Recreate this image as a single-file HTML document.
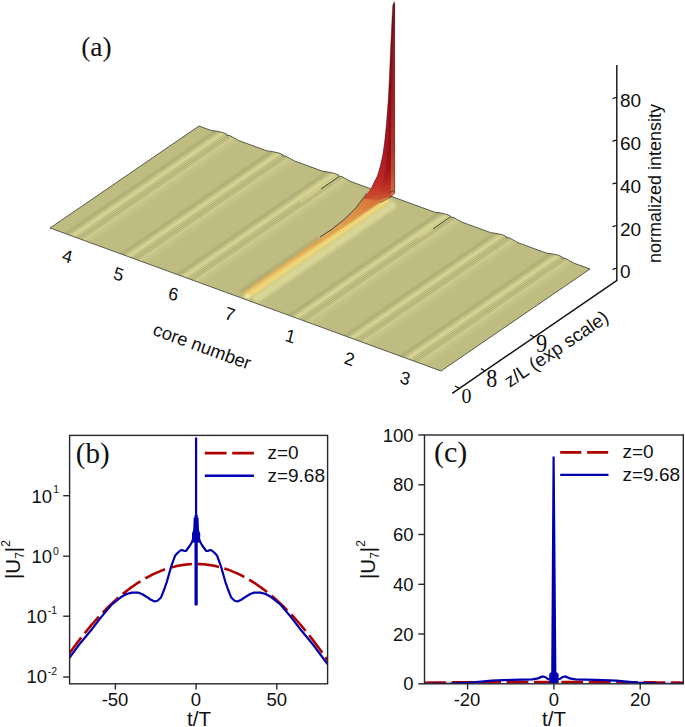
<!DOCTYPE html>
<html><head><meta charset="utf-8">
<style>
html,body{margin:0;padding:0;background:#fff;width:685px;height:727px;overflow:hidden}
svg{position:absolute;left:0;top:0;display:block}
.s{font-family:"Liberation Sans",sans-serif;fill:#111}
.r{font-family:"Liberation Serif",serif;fill:#111}
</style></head><body>
<svg width="685" height="727" viewBox="0 0 685 727">

<defs>
  <linearGradient id="surfU" gradientUnits="userSpaceOnUse" x1="0" y1="0" x2="1" y2="0.0"><stop offset="0.0000" stop-color="#bebc81"/><stop offset="0.0314" stop-color="#bebc81"/><stop offset="0.0414" stop-color="#afad74"/><stop offset="0.0494" stop-color="#c4c286"/><stop offset="0.0554" stop-color="#d5d391"/><stop offset="0.0604" stop-color="#d6d492"/><stop offset="0.0639" stop-color="#bab87e"/><stop offset="0.0664" stop-color="#cfcd8f"/><stop offset="0.0689" stop-color="#acaa72"/><stop offset="0.0714" stop-color="#cac88b"/><stop offset="0.0739" stop-color="#a9a76f"/><stop offset="0.0764" stop-color="#c8c689"/><stop offset="0.0789" stop-color="#b4b279"/><stop offset="0.0834" stop-color="#cdcb8d"/><stop offset="0.0934" stop-color="#c5c387"/><stop offset="0.1074" stop-color="#bebc81"/><stop offset="0.1743" stop-color="#bebc81"/><stop offset="0.1843" stop-color="#afad74"/><stop offset="0.1923" stop-color="#c4c286"/><stop offset="0.1983" stop-color="#d5d391"/><stop offset="0.2033" stop-color="#d6d492"/><stop offset="0.2068" stop-color="#bab87e"/><stop offset="0.2093" stop-color="#cfcd8f"/><stop offset="0.2118" stop-color="#acaa72"/><stop offset="0.2143" stop-color="#cac88b"/><stop offset="0.2168" stop-color="#a9a76f"/><stop offset="0.2193" stop-color="#c8c689"/><stop offset="0.2218" stop-color="#b4b279"/><stop offset="0.2263" stop-color="#cdcb8d"/><stop offset="0.2363" stop-color="#c5c387"/><stop offset="0.2503" stop-color="#bebc81"/><stop offset="0.3171" stop-color="#bebc81"/><stop offset="0.3271" stop-color="#afad74"/><stop offset="0.3351" stop-color="#c4c286"/><stop offset="0.3411" stop-color="#d5d391"/><stop offset="0.3461" stop-color="#d6d492"/><stop offset="0.3496" stop-color="#bab87e"/><stop offset="0.3521" stop-color="#cfcd8f"/><stop offset="0.3546" stop-color="#acaa72"/><stop offset="0.3571" stop-color="#cac88b"/><stop offset="0.3596" stop-color="#a9a76f"/><stop offset="0.3621" stop-color="#c8c689"/><stop offset="0.3646" stop-color="#b4b279"/><stop offset="0.3691" stop-color="#cdcb8d"/><stop offset="0.3791" stop-color="#c5c387"/><stop offset="0.3931" stop-color="#bebc81"/><stop offset="0.6029" stop-color="#bebc81"/><stop offset="0.6129" stop-color="#afad74"/><stop offset="0.6209" stop-color="#c4c286"/><stop offset="0.6269" stop-color="#d5d391"/><stop offset="0.6319" stop-color="#d6d492"/><stop offset="0.6354" stop-color="#bab87e"/><stop offset="0.6379" stop-color="#cfcd8f"/><stop offset="0.6404" stop-color="#acaa72"/><stop offset="0.6429" stop-color="#cac88b"/><stop offset="0.6454" stop-color="#a9a76f"/><stop offset="0.6479" stop-color="#c8c689"/><stop offset="0.6504" stop-color="#b4b279"/><stop offset="0.6549" stop-color="#cdcb8d"/><stop offset="0.6649" stop-color="#c5c387"/><stop offset="0.6789" stop-color="#bebc81"/><stop offset="0.7457" stop-color="#bebc81"/><stop offset="0.7557" stop-color="#afad74"/><stop offset="0.7637" stop-color="#c4c286"/><stop offset="0.7697" stop-color="#d5d391"/><stop offset="0.7747" stop-color="#d6d492"/><stop offset="0.7782" stop-color="#bab87e"/><stop offset="0.7807" stop-color="#cfcd8f"/><stop offset="0.7832" stop-color="#acaa72"/><stop offset="0.7857" stop-color="#cac88b"/><stop offset="0.7882" stop-color="#a9a76f"/><stop offset="0.7907" stop-color="#c8c689"/><stop offset="0.7932" stop-color="#b4b279"/><stop offset="0.7977" stop-color="#cdcb8d"/><stop offset="0.8077" stop-color="#c5c387"/><stop offset="0.8217" stop-color="#bebc81"/><stop offset="0.8886" stop-color="#bebc81"/><stop offset="0.8986" stop-color="#afad74"/><stop offset="0.9066" stop-color="#c4c286"/><stop offset="0.9126" stop-color="#d5d391"/><stop offset="0.9176" stop-color="#d6d492"/><stop offset="0.9211" stop-color="#bab87e"/><stop offset="0.9236" stop-color="#cfcd8f"/><stop offset="0.9261" stop-color="#acaa72"/><stop offset="0.9286" stop-color="#cac88b"/><stop offset="0.9311" stop-color="#a9a76f"/><stop offset="0.9336" stop-color="#c8c689"/><stop offset="0.9361" stop-color="#b4b279"/><stop offset="0.9406" stop-color="#cdcb8d"/><stop offset="0.9506" stop-color="#c5c387"/><stop offset="0.9646" stop-color="#bebc81"/><stop offset="1.0000" stop-color="#bebc81"/></linearGradient>
  <linearGradient id="spikeG" gradientUnits="userSpaceOnUse" x1="0" y1="0" x2="0" y2="205">
    <stop offset="0" stop-color="#741020"/>
    <stop offset="0.5" stop-color="#860c1c"/>
    <stop offset="0.76" stop-color="#940e1c"/>
    <stop offset="0.85" stop-color="#a8161e"/>
    <stop offset="0.92" stop-color="#c03428"/>
    <stop offset="1" stop-color="#d26c34"/>
  </linearGradient>
  <linearGradient id="spikeR" gradientUnits="userSpaceOnUse" x1="0" y1="0" x2="0" y2="196">
    <stop offset="0" stop-color="#8a1620"/>
    <stop offset="0.5" stop-color="#a82420"/>
    <stop offset="0.75" stop-color="#bc4a2a"/>
    <stop offset="0.9" stop-color="#c86a32"/>
    <stop offset="1" stop-color="#d08a40"/>
  </linearGradient>
  <linearGradient id="spikeL" gradientUnits="userSpaceOnUse" x1="0" y1="60" x2="0" y2="205">
    <stop offset="0" stop-color="#a41a22" stop-opacity="0"/>
    <stop offset="0.6" stop-color="#b41c22" stop-opacity="0.6"/>
    <stop offset="0.85" stop-color="#c4302a" stop-opacity="0.8"/>
    <stop offset="1" stop-color="#d0542e" stop-opacity="0.9"/>
  </linearGradient>
  <linearGradient id="ridgeO" gradientUnits="userSpaceOnUse" x1="245" y1="295" x2="388" y2="192">
    <stop offset="0" stop-color="#eccc78"/>
    <stop offset="0.4" stop-color="#e8b860"/>
    <stop offset="0.6" stop-color="#e2a44e"/>
    <stop offset="0.8" stop-color="#dc8c42"/>
    <stop offset="0.92" stop-color="#d47036"/>
    <stop offset="1" stop-color="#cc5830"/>
  </linearGradient>
  <filter id="bl1" x="-20%" y="-20%" width="140%" height="140%"><feGaussianBlur stdDeviation="0.8"/></filter>
  <filter id="bl2" x="-20%" y="-20%" width="140%" height="140%"><feGaussianBlur stdDeviation="1.6"/></filter>
</defs>
<g id="surface">
  <g transform="matrix(391,143,149,-102,50,228)">
    <polygon points="0.0000,0.0000 1.0000,0.0000 1.0000,1.0000 0.9586,1.0000 0.9436,1.0060 0.9316,1.0110 0.9271,1.0040 0.9246,1.0120 0.9136,1.0140 0.8986,1.0080 0.8886,1.0000 0.8157,1.0000 0.8007,1.0060 0.7887,1.0110 0.7842,1.0040 0.7817,1.0120 0.7707,1.0140 0.7557,1.0080 0.7457,1.0000 0.6729,1.0000 0.6579,1.0060 0.6459,1.0110 0.6414,1.0040 0.6389,1.0120 0.6279,1.0140 0.6129,1.0080 0.6029,1.0000 0.3871,1.0000 0.3721,1.0060 0.3601,1.0110 0.3556,1.0040 0.3531,1.0120 0.3421,1.0140 0.3271,1.0080 0.3171,1.0000 0.2443,1.0000 0.2293,1.0060 0.2173,1.0110 0.2128,1.0040 0.2103,1.0120 0.1993,1.0140 0.1843,1.0080 0.1743,1.0000 0.1014,1.0000 0.0864,1.0060 0.0744,1.0110 0.0699,1.0040 0.0674,1.0120 0.0564,1.0140 0.0414,1.0080 0.0314,1.0000 0.0000,1.0000" fill="url(#surfU)"/>
  </g>
  <!-- core-7 ridge -->
  <g>
    <line x1="254" y1="300.5" x2="395" y2="203.5" stroke="#dedb9a" stroke-width="8" filter="url(#bl2)" opacity="0.85"/>
    <line x1="240" y1="291.5" x2="318" y2="237.5" stroke="#a6a46e" stroke-width="2.2" filter="url(#bl1)" opacity="0.8"/>
    <polygon points="242,293.6 320.1,238.5 332,229.9 345.1,219.4 355.6,208.9 363.5,198.4 367.5,193.5 371.4,187.9 375.3,180 394.6,185 394.6,194 389,198 387.9,197.8 246.4,294.6" fill="url(#ridgeO)"/>
    <line x1="247.5" y1="296.3" x2="389" y2="199.5" stroke="#f2d878" stroke-width="5" filter="url(#bl1)"/>
    <line x1="242.5" y1="293.5" x2="321" y2="238.6" stroke="#d29440" stroke-width="1.3" filter="url(#bl1)"/>
    <ellipse cx="247" cy="296.5" rx="3" ry="2" fill="#f8eeb0" filter="url(#bl1)"/>
    <line x1="380.2" y1="202.5" x2="393" y2="196" stroke="#5a4020" stroke-width="0.7"/>
  </g>
  <!-- creases near back edge -->
  <line x1="337.7" y1="176.4" x2="300" y2="202" stroke="#e6e29c" stroke-width="1.3" filter="url(#bl1)"/>
  <line x1="338.6" y1="176.8" x2="321" y2="189" stroke="#3a3626" stroke-width="0.9"/>
  <line x1="448.8" y1="216.8" x2="418" y2="238" stroke="#e6e29c" stroke-width="1.3" filter="url(#bl1)"/>
  <line x1="449.6" y1="217.4" x2="433" y2="229" stroke="#3a3626" stroke-width="0.9"/>
  <polyline points="320.1,237 332,229.2 345.1,218.7 355.6,208.2 363.5,197.8 367,193" fill="none" stroke="#3a3028" stroke-width="0.9"/>
  <polygon points="50.0,228.0 199.0,126.0 211.3,130.5 216.4,131.1 223.1,132.6 227.2,134.4 226.9,135.6 229.7,135.5 233.7,137.7 238.7,140.5 267.1,150.9 272.2,151.5 279.0,153.1 283.0,154.8 282.8,156.0 285.6,155.9 289.5,158.2 294.5,160.9 323.0,171.4 328.1,172.0 334.9,173.5 338.9,175.3 338.7,176.4 341.5,176.4 345.4,178.6 350.4,181.4 434.7,212.2 439.8,212.8 446.6,214.4 450.6,216.1 450.4,217.3 453.2,217.2 457.1,219.5 462.1,222.2 490.6,232.6 495.7,233.3 502.4,234.8 506.4,236.6 506.2,237.7 509.0,237.7 513.0,239.9 517.9,242.6 546.4,253.1 551.5,253.7 558.3,255.2 562.3,257.0 562.1,258.2 564.9,258.1 568.8,260.3 573.8,263.1 590.0,269.0 441.0,371.0" fill="none" stroke="#3a3a30" stroke-width="0.8" stroke-linejoin="round"/>
</g>
<path id="spike" d="M394.3,1.2 L395,4 L394.7,41 L394.7,100 L394.7,193.5 L388,197.5 L378,200 L369,199.5 L363.5,198.4 L367.5,193.5 L371.4,187.9 L375.3,180 L377.5,175.7 L380.3,166 L382.8,155 L384.7,141.3 L386.1,127.5 L387.2,113.8 L388.2,100 L389.1,82.4 L390,61.8 L390.9,41.2 L391.9,20.6 L392.7,5.5 Z" fill="url(#spikeG)"/>
<path d="M394.6,20 L394.7,193.5 L390.8,195 L391.2,100 L392.5,40 Z" fill="url(#spikeR)" opacity="0.7"/>
<path d="M388.2,100 L387.2,113.8 L386.1,127.5 L384.7,141.3 L382.8,155 L380.3,166 L377.5,175.7 L375.3,180 L371.4,187.9 L367.5,193.5 L363.5,198.4 L372,199 L378,193 L382,184 L385,172 L387.2,155 L388.8,135 L389.8,110 Z" fill="url(#spikeL)"/>
<path d="M394.3,1.2 L392.7,5.5 L391.9,20.6 L390.9,41.2 L390,61.8 L389.1,82.4 L388.2,100 L387.2,113.8 L386.1,127.5 L384.7,141.3 L382.8,155 L380.3,166 L377.5,175.7 L375.3,180 L371.4,187.9" fill="none" stroke="#3a1a1a" stroke-width="0.6" opacity="0.6"/>
<line x1="394.7" y1="4" x2="394.7" y2="193" stroke="#3a2a20" stroke-width="0.7" opacity="0.7"/>
<line x1="389.5" y1="192.5" x2="394.5" y2="190.5" stroke="#3a2a20" stroke-width="0.8" opacity="0.8"/>

<text class="r" x="81.2" y="56.2" font-size="27.5">(a)</text>

<line x1="616.8" y1="65" x2="616.8" y2="281" stroke="#111" stroke-width="1.4"/>
<g stroke="#111" stroke-width="1.2"><line x1="612.5" y1="98.5" x2="616.8" y2="97.4"/><line x1="612.5" y1="141.2" x2="616.8" y2="140.1"/><line x1="612.5" y1="183.9" x2="616.8" y2="182.8"/><line x1="612.5" y1="226.6" x2="616.8" y2="225.5"/><line x1="612.5" y1="269.3" x2="616.8" y2="268.2"/></g>
<g class="s" font-size="19"><text x="620" y="107.4">80</text><text x="620" y="150.1">60</text><text x="620" y="192.8">40</text><text x="620" y="235.5">20</text><text x="620" y="278.2">0</text></g>
<text class="s" font-size="18" transform="translate(660.7,263) rotate(-90)">normalized intensity</text>
<line x1="452.2" y1="393.3" x2="617" y2="280.3" stroke="#111" stroke-width="1.4"/>
<g stroke="#111" stroke-width="1.2">
  <line x1="455" y1="386" x2="459.4" y2="388.4"/>
  <line x1="480.9" y1="368.6" x2="485.3" y2="371"/>
  <line x1="530" y1="334.8" x2="534.4" y2="337.2"/>
</g>
<text class="r" x="461.5" y="403" font-size="20">0</text>
<text class="r" font-size="22" transform="translate(486.3,387.2) scale(1,1.16)">8</text>
<text class="r" font-size="22" transform="translate(536,351.5) scale(1.02,1.16)">9</text>
<text class="s" font-size="18.7" transform="translate(509.8,387.9) rotate(-34)">z/L (exp scale)</text>
<g class="s" font-size="18"><text transform="matrix(0.94,0.342,-0.242,0.97,67.5,256) translate(-5,6.5)">4</text><text transform="matrix(0.94,0.342,-0.242,0.97,118.7,274) translate(-5,6.5)">5</text><text transform="matrix(0.94,0.342,-0.242,0.97,173.6,293.7) translate(-5,6.5)">6</text><text transform="matrix(0.94,0.342,-0.242,0.97,230,313.8) translate(-5,6.5)">7</text><text transform="matrix(0.94,0.342,-0.242,0.97,290.5,336) translate(-5,6.5)">1</text><text transform="matrix(0.94,0.342,-0.242,0.97,349.5,358.6) translate(-5,6.5)">2</text><text transform="matrix(0.94,0.342,-0.242,0.97,405.2,378) translate(-5,6.5)">3</text></g>
<text class="s" font-size="18.3" transform="translate(151.8,334.6) rotate(20)">core number</text>

<g id="pb">
  <clipPath id="cb"><rect x="69.6" y="435.4" width="258.0" height="248.39999999999998"/></clipPath>
  <g clip-path="url(#cb)">
    <polyline points="68.3,655.1 69.1,653.9 69.9,652.8 70.7,651.6 71.5,650.5 72.3,649.4 73.1,648.3 73.9,647.2 74.7,646.1 75.6,645.0 76.4,643.9 77.2,642.8 78.0,641.8 78.8,640.7 79.6,639.6 80.4,638.6 81.2,637.6 82.0,636.5 82.8,635.5 83.6,634.5 84.5,633.5 85.3,632.5 86.1,631.5 86.9,630.5 87.7,629.5 88.5,628.5 89.3,627.6 90.1,626.6 90.9,625.6 91.7,624.7 92.5,623.8 93.4,622.8 94.2,621.9 95.0,621.0 95.8,620.1 96.6,619.2 97.4,618.3 98.2,617.4 99.0,616.5 99.8,615.7 100.6,614.8 101.4,613.9 102.3,613.1 103.1,612.2 103.9,611.4 104.7,610.6 105.5,609.8 106.3,608.9 107.1,608.1 107.9,607.3 108.7,606.5 109.5,605.8 110.3,605.0 111.2,604.2 112.0,603.5 112.8,602.7 113.6,601.9 114.4,601.2 115.2,600.5 116.0,599.8 116.8,599.0 117.6,598.3 118.4,597.6 119.2,596.9 120.1,596.2 120.9,595.5 121.7,594.9 122.5,594.2 123.3,593.5 124.1,592.9 124.9,592.2 125.7,591.6 126.5,591.0 127.3,590.4 128.1,589.7 129.0,589.1 129.8,588.5 130.6,587.9 131.4,587.3 132.2,586.8 133.0,586.2 133.8,585.6 134.6,585.1 135.4,584.5 136.2,584.0 137.0,583.4 137.9,582.9 138.7,582.4 139.5,581.9 140.3,581.4 141.1,580.9 141.9,580.4 142.7,579.9 143.5,579.4 144.3,578.9 145.1,578.5 145.9,578.0 146.8,577.6 147.6,577.1 148.4,576.7 149.2,576.3 150.0,575.9 150.8,575.4 151.6,575.0 152.4,574.6 153.2,574.2 154.0,573.9 154.8,573.5 155.6,573.1 156.5,572.8 157.3,572.4 158.1,572.1 158.9,571.7 159.7,571.4 160.5,571.1 161.3,570.7 162.1,570.4 162.9,570.1 163.7,569.8 164.5,569.5 165.4,569.3 166.2,569.0 167.0,568.7 167.8,568.5 168.6,568.2 169.4,568.0 170.2,567.7 171.0,567.5 171.8,567.3 172.6,567.1 173.4,566.9 174.3,566.7 175.1,566.5 175.9,566.3 176.7,566.1 177.5,565.9 178.3,565.8 179.1,565.6 179.9,565.5 180.7,565.3 181.5,565.2 182.3,565.1 183.2,564.9 184.0,564.8 184.8,564.7 185.6,564.6 186.4,564.5 187.2,564.4 188.0,564.4 188.8,564.3 189.6,564.2 190.4,564.2 191.2,564.1 192.1,564.1 192.9,564.1 193.7,564.0 194.5,564.0 195.3,564.0 196.1,564.0 196.9,564.0 197.7,564.0 198.5,564.0 199.3,564.1 200.1,564.1 201.0,564.1 201.8,564.2 202.6,564.2 203.4,564.3 204.2,564.4 205.0,564.4 205.8,564.5 206.6,564.6 207.4,564.7 208.2,564.8 209.0,564.9 209.9,565.1 210.7,565.2 211.5,565.3 212.3,565.5 213.1,565.6 213.9,565.8 214.7,565.9 215.5,566.1 216.3,566.3 217.1,566.5 217.9,566.7 218.8,566.9 219.6,567.1 220.4,567.3 221.2,567.5 222.0,567.7 222.8,568.0 223.6,568.2 224.4,568.5 225.2,568.7 226.0,569.0 226.8,569.3 227.7,569.5 228.5,569.8 229.3,570.1 230.1,570.4 230.9,570.7 231.7,571.1 232.5,571.4 233.3,571.7 234.1,572.1 234.9,572.4 235.7,572.8 236.6,573.1 237.4,573.5 238.2,573.9 239.0,574.2 239.8,574.6 240.6,575.0 241.4,575.4 242.2,575.9 243.0,576.3 243.8,576.7 244.6,577.1 245.4,577.6 246.3,578.0 247.1,578.5 247.9,578.9 248.7,579.4 249.5,579.9 250.3,580.4 251.1,580.9 251.9,581.4 252.7,581.9 253.5,582.4 254.3,582.9 255.2,583.4 256.0,584.0 256.8,584.5 257.6,585.1 258.4,585.6 259.2,586.2 260.0,586.8 260.8,587.3 261.6,587.9 262.4,588.5 263.2,589.1 264.1,589.7 264.9,590.4 265.7,591.0 266.5,591.6 267.3,592.2 268.1,592.9 268.9,593.5 269.7,594.2 270.5,594.9 271.3,595.5 272.1,596.2 273.0,596.9 273.8,597.6 274.6,598.3 275.4,599.0 276.2,599.8 277.0,600.5 277.8,601.2 278.6,601.9 279.4,602.7 280.2,603.5 281.0,604.2 281.9,605.0 282.7,605.8 283.5,606.5 284.3,607.3 285.1,608.1 285.9,608.9 286.7,609.8 287.5,610.6 288.3,611.4 289.1,612.2 289.9,613.1 290.8,613.9 291.6,614.8 292.4,615.7 293.2,616.5 294.0,617.4 294.8,618.3 295.6,619.2 296.4,620.1 297.2,621.0 298.0,621.9 298.8,622.8 299.7,623.8 300.5,624.7 301.3,625.6 302.1,626.6 302.9,627.6 303.7,628.5 304.5,629.5 305.3,630.5 306.1,631.5 306.9,632.5 307.7,633.5 308.6,634.5 309.4,635.5 310.2,636.5 311.0,637.6 311.8,638.6 312.6,639.6 313.4,640.7 314.2,641.8 315.0,642.8 315.8,643.9 316.6,645.0 317.4,646.1 318.3,647.2 319.1,648.3 319.9,649.4 320.7,650.5 321.5,651.6 322.3,652.8 323.1,653.9 323.9,655.1 324.7,656.2 325.5,657.4 326.3,658.6 327.2,659.7 328.0,660.9 328.8,662.1 329.6,663.3" fill="none" stroke="#b00000" stroke-width="2.6" stroke-dasharray="21.8 5.6"/>
    <polyline points="66.0,662.5 69.6,657.5 80.3,643.2 90.6,630.8 101.0,617.4 111.3,605.0 121.6,596.7 126.5,594.0 131.9,592.6 138.1,592.6 142.0,594.0 146.4,596.7 150.5,599.5 154.6,601.5 157.5,600.8 160.8,597.8 164.0,590.0 167.0,581.3 171.1,566.8 173.5,560.0 175.2,555.5 178.0,552.5 180.4,550.5 182.0,550.0 184.0,550.8 185.9,551.0 187.8,548.5 190.0,545.5 192.0,542.0 193.0,539.0 199.2,539.0 200.2,542.0 202.2,545.5 204.4,548.5 206.3,551.0 208.2,550.8 210.2,550.0 211.8,550.5 214.2,552.5 217.0,555.5 218.7,560.0 221.1,566.8 225.2,581.3 228.2,590.0 231.4,597.8 234.7,600.8 237.6,601.5 241.7,599.5 245.8,596.7 250.2,594.0 254.1,592.6 260.3,592.6 265.7,594.0 270.6,596.7 280.9,605.0 291.2,617.4 301.6,630.8 311.9,643.2 322.6,657.5 327.6,664.2 330.0,667.4" fill="none" stroke="#0000b0" stroke-width="2.2" stroke-linejoin="round"/>
    <line x1="196.1" y1="437.5" x2="196.1" y2="605.5" stroke="#0000b0" stroke-width="2.2"/>
    <line x1="196.1" y1="515" x2="196.1" y2="605" stroke="#0000b0" stroke-width="3.2"/>
    <polygon points="193.7,517.5 198.5,517.5 199,530 200.3,534 199.9,542.5 192.3,542.5 191.9,534 193.2,530" fill="#0000b0"/>
  </g>
  <rect x="69.6" y="435.4" width="258.0" height="248.39999999999998" fill="none" stroke="#262630" stroke-width="1.4"/>
  <g stroke="#262630" stroke-width="1.4">
    <line x1="63.2" y1="495.7" x2="69.6" y2="495.7"/>
    <line x1="63.2" y1="556.2" x2="69.6" y2="556.2"/>
    <line x1="63.2" y1="616.2" x2="69.6" y2="616.2"/>
    <line x1="63.2" y1="677" x2="69.6" y2="677"/>
    <line x1="115.4" y1="683.8" x2="115.4" y2="689.5"/>
    <line x1="196.1" y1="683.8" x2="196.1" y2="689.5"/>
    <line x1="276.8" y1="683.8" x2="276.8" y2="689.5"/>
  </g>
  <line x1="204.8" y1="453.1" x2="253.9" y2="453.1" stroke="#b00000" stroke-width="2.6" stroke-dasharray="21.8 5.6"/>
  <line x1="204.8" y1="475.8" x2="253.9" y2="475.8" stroke="#0000b0" stroke-width="2.4"/>
  <g class="s" font-size="19">
    <text x="267.4" y="458.9">z=0</text>
    <text x="267.4" y="481.9">z=9.68</text>
  </g>
  <text class="r" x="75.8" y="462.5" font-size="29">(b)</text>
  <g class="s" font-size="18.5" text-anchor="middle">
    <text x="115" y="706.2">-50</text>
    <text x="196" y="706.2">0</text>
    <text x="276.8" y="706.2">50</text>
    <text x="199" y="725.5" font-size="20.5">t/T</text>
  </g>
  <g class="s" font-size="18.5" text-anchor="end">
    <text x="52" y="502.6">10</text>
    <text x="52" y="563">10</text>
    <text x="47" y="623.2">10</text>
    <text x="47" y="683.2">10</text>
  </g>
  <g class="s" font-size="10.5" text-anchor="start">
    <text x="53.3" y="492.5">1</text>
    <text x="53" y="554.5">0</text>
    <text x="47.8" y="614">-1</text>
    <text x="47.8" y="674.6">-2</text>
  </g>
  <g class="s" transform="translate(20,579) rotate(-90)">
    <text x="0" y="0" font-size="20.5">|U<tspan font-size="12" dy="4">7</tspan><tspan dy="-4">|</tspan><tspan font-size="12" dy="-10.5">2</tspan></text>
  </g>
</g>

<g id="pc">
  <clipPath id="cc"><rect x="424.5" y="435.0" width="258.79999999999995" height="248.79999999999995"/></clipPath>
  <g clip-path="url(#cc)">
    <polyline points="424.4,682.7 425.5,682.7 426.6,682.7 427.7,682.7 428.8,682.6 429.8,682.6 430.9,682.6 432.0,682.6 433.1,682.6 434.2,682.6 435.2,682.6 436.3,682.6 437.4,682.6 438.5,682.6 439.6,682.6 440.6,682.5 441.7,682.5 442.8,682.5 443.9,682.5 444.9,682.5 446.0,682.5 447.1,682.5 448.2,682.5 449.3,682.5 450.3,682.5 451.4,682.5 452.5,682.4 453.6,682.4 454.7,682.4 455.7,682.4 456.8,682.4 457.9,682.4 459.0,682.4 460.0,682.4 461.1,682.4 462.2,682.4 463.3,682.4 464.4,682.4 465.4,682.3 466.5,682.3 467.6,682.3 468.7,682.3 469.8,682.3 470.8,682.3 471.9,682.3 473.0,682.3 474.1,682.3 475.2,682.3 476.2,682.3 477.3,682.3 478.4,682.2 479.5,682.2 480.5,682.2 481.6,682.2 482.7,682.2 483.8,682.2 484.9,682.2 485.9,682.2 487.0,682.2 488.1,682.2 489.2,682.2 490.3,682.2 491.3,682.2 492.4,682.2 493.5,682.1 494.6,682.1 495.6,682.1 496.7,682.1 497.8,682.1 498.9,682.1 500.0,682.1 501.0,682.1 502.1,682.1 503.2,682.1 504.3,682.1 505.4,682.1 506.4,682.1 507.5,682.1 508.6,682.1 509.7,682.1 510.8,682.1 511.8,682.1 512.9,682.0 514.0,682.0 515.1,682.0 516.1,682.0 517.2,682.0 518.3,682.0 519.4,682.0 520.5,682.0 521.5,682.0 522.6,682.0 523.7,682.0 524.8,682.0 525.9,682.0 526.9,682.0 528.0,682.0 529.1,682.0 530.2,682.0 531.2,682.0 532.3,682.0 533.4,682.0 534.5,682.0 535.6,682.0 536.6,682.0 537.7,682.0 538.8,682.0 539.9,682.0 541.0,682.0 542.0,682.0 543.1,682.0 544.2,682.0 545.3,682.0 546.3,682.0 547.4,682.0 548.5,682.0 549.6,682.0 550.7,682.0 551.7,682.0 552.8,682.0 553.9,682.0 555.0,682.0 556.1,682.0 557.1,682.0 558.2,682.0 559.3,682.0 560.4,682.0 561.5,682.0 562.5,682.0 563.6,682.0 564.7,682.0 565.8,682.0 566.8,682.0 567.9,682.0 569.0,682.0 570.1,682.0 571.2,682.0 572.2,682.0 573.3,682.0 574.4,682.0 575.5,682.0 576.6,682.0 577.6,682.0 578.7,682.0 579.8,682.0 580.9,682.0 581.9,682.0 583.0,682.0 584.1,682.0 585.2,682.0 586.3,682.0 587.3,682.0 588.4,682.0 589.5,682.0 590.6,682.0 591.7,682.0 592.7,682.0 593.8,682.0 594.9,682.0 596.0,682.1 597.0,682.1 598.1,682.1 599.2,682.1 600.3,682.1 601.4,682.1 602.4,682.1 603.5,682.1 604.6,682.1 605.7,682.1 606.8,682.1 607.8,682.1 608.9,682.1 610.0,682.1 611.1,682.1 612.2,682.1 613.2,682.1 614.3,682.1 615.4,682.2 616.5,682.2 617.5,682.2 618.6,682.2 619.7,682.2 620.8,682.2 621.9,682.2 622.9,682.2 624.0,682.2 625.1,682.2 626.2,682.2 627.3,682.2 628.3,682.2 629.4,682.2 630.5,682.3 631.6,682.3 632.6,682.3 633.7,682.3 634.8,682.3 635.9,682.3 637.0,682.3 638.0,682.3 639.1,682.3 640.2,682.3 641.3,682.3 642.4,682.3 643.4,682.4 644.5,682.4 645.6,682.4 646.7,682.4 647.8,682.4 648.8,682.4 649.9,682.4 651.0,682.4 652.1,682.4 653.1,682.4 654.2,682.4 655.3,682.4 656.4,682.5 657.5,682.5 658.5,682.5 659.6,682.5 660.7,682.5 661.8,682.5 662.9,682.5 663.9,682.5 665.0,682.5 666.1,682.5 667.2,682.5 668.2,682.6 669.3,682.6 670.4,682.6 671.5,682.6 672.6,682.6 673.6,682.6 674.7,682.6 675.8,682.6 676.9,682.6 678.0,682.6 679.0,682.6 680.1,682.7 681.2,682.7 682.3,682.7 683.4,682.7" fill="none" stroke="#b00000" stroke-width="2.6" stroke-dasharray="21.8 5.6"/>
    <polyline points="424.5,684.0 450.0,683.6 470.0,682.6 481.3,681.6 491.5,680.6 512.0,679.9 532.4,679.3 538.0,678.3 542.6,676.5 545.5,677.2 547.6,678.8 549.5,679.2" fill="none" stroke="#0000b0" stroke-width="2.3"/>
    <polyline points="558.3,679.2 560.2,678.8 562.3,677.2 565.2,676.5 569.8,678.3 575.4,679.3 595.8,679.9 616.3,680.6 626.5,681.6 637.8,682.6 657.8,683.6 683.3,684.0" fill="none" stroke="#0000b0" stroke-width="2.3"/>
    <polygon points="552.5,456.4 554.7,456.4 556.4,672 558.6,674 558.6,683 549.2,683 549.2,674 551.2,672" fill="#0000b0"/>
  </g>
  <rect x="424.5" y="435.0" width="258.79999999999995" height="248.79999999999995" fill="none" stroke="#262630" stroke-width="1.4"/>
  <g stroke="#262630" stroke-width="1.4"><line x1="418.3" y1="683.8" x2="424.5" y2="683.8"/><line x1="418.3" y1="634.0" x2="424.5" y2="634.0"/><line x1="418.3" y1="584.3" x2="424.5" y2="584.3"/><line x1="418.3" y1="534.5" x2="424.5" y2="534.5"/><line x1="418.3" y1="484.8" x2="424.5" y2="484.8"/><line x1="418.3" y1="435.0" x2="424.5" y2="435.0"/><line x1="467.6" y1="683.8" x2="467.6" y2="689.5"/><line x1="553.9" y1="683.8" x2="553.9" y2="689.5"/><line x1="640.2" y1="683.8" x2="640.2" y2="689.5"/></g>
  <line x1="560.2" y1="452.4" x2="608.5" y2="452.4" stroke="#b00000" stroke-width="2.6" stroke-dasharray="21.1 5.8"/>
  <line x1="560.2" y1="474.9" x2="608.5" y2="474.9" stroke="#0000b0" stroke-width="2.4"/>
  <g class="s" font-size="19">
    <text x="622.5" y="458.4">z=0</text>
    <text x="622.5" y="481.2">z=9.68</text>
  </g>
  <text class="r" x="434" y="462.3" font-size="30">(c)</text>
  <g class="s" font-size="18.5" text-anchor="end"><text x="413.5" y="690.4">0</text><text x="413.5" y="640.6">20</text><text x="413.5" y="590.9">40</text><text x="413.5" y="541.1">60</text><text x="413.5" y="491.4">80</text><text x="413.5" y="441.6">100</text></g>
  <g class="s" font-size="18.5" text-anchor="middle">
    <text x="467" y="706.2">-20</text>
    <text x="553.9" y="706.2">0</text>
    <text x="640.2" y="706.2">20</text>
    <text x="554" y="725.5" font-size="20.5">t/T</text>
  </g>
  <g class="s" transform="translate(375,579) rotate(-90)">
    <text x="0" y="0" font-size="20.5">|U<tspan font-size="12" dy="4">7</tspan><tspan dy="-4">|</tspan><tspan font-size="12" dy="-10.5">2</tspan></text>
  </g>
</g>

</svg>
</body></html>
